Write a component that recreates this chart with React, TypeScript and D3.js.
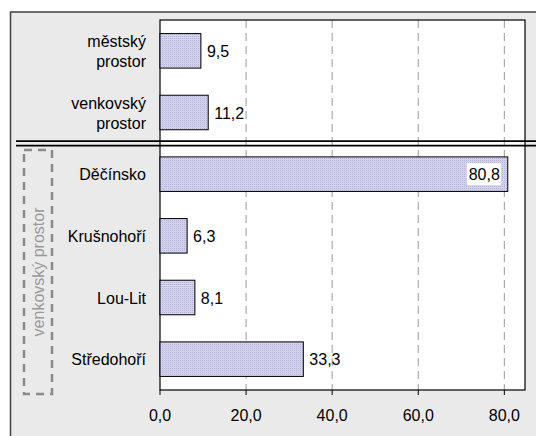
import React from "react";
import * as d3 from "d3";

const categories = ["městský prostor", "venkovský prostor", "Děčínsko", "Krušnohoří", "Lou-Lit", "Středohoří"];
const values = [9.5, 11.2, 80.8, 6.3, 8.1, 33.3];
const ticks = [0, 20, 40, 60, 80];
const groupLabel = "venkovský prostor";

const W = 536, H = 436;
const plot = { left: 160, top: 20, right: 525, bottom: 390 };
const font = "'Liberation Sans', Arial, sans-serif";
const FS = 16;

const fmt = (v: number) => v.toFixed(1).replace(".", ",");

export default function App() {
  const x = d3.scaleLinear().domain([0, 84.8]).range([plot.left, plot.right]);
  const y = d3
    .scaleBand<string>()
    .domain(categories)
    .range([plot.top, plot.bottom])
    .paddingInner(0.44)
    .paddingOuter(0.22);
  const bw = y.bandwidth();
  const sepY = (y(categories[1])! + bw + y(categories[2])!) / 2;
  const groupTop = y(categories[2])! - 7;
  const groupBottom = plot.bottom + 4;

  return (
    <svg width={W} height={H} style={{ position: "absolute", left: 0, top: 0 }}>
      <defs>
        <pattern id="hatch" width="2" height="2" patternUnits="userSpaceOnUse">
          <rect width="2" height="2" fill="#d2d2ee" />
          <rect x="0" y="0" width="1" height="1" fill="#b4b4d8" />
        </pattern>
      </defs>
      <rect x={0} y={0} width={W} height={H} fill="#ffffff" />
      <rect x={10.5} y={12} width={W} height={H} fill="#eaeaea" stroke="#404040" strokeWidth={1.5} />
      <rect
        x={plot.left}
        y={plot.top}
        width={plot.right - plot.left}
        height={plot.bottom - plot.top}
        fill="#ffffff"
      />
      {ticks.slice(1).map((t) => (
        <line
          key={"g" + t}
          x1={x(t)}
          x2={x(t)}
          y1={plot.top}
          y2={plot.bottom}
          stroke="#9a9a9a"
          strokeWidth={1}
          strokeDasharray="8,5"
        />
      ))}
      <rect
        x={plot.left}
        y={plot.top}
        width={plot.right - plot.left}
        height={plot.bottom - plot.top}
        fill="none"
        stroke="#000"
        strokeWidth={1.2}
      />
      {ticks.map((t) => (
        <g key={"t" + t}>
          <line x1={x(t)} x2={x(t)} y1={plot.bottom} y2={plot.bottom + 5} stroke="#000" />
          <text
            x={x(t)}
            y={421}
            textAnchor="middle"
            fontFamily={font}
            fontSize={FS}
            fill="#000"
          >
            {fmt(t)}
          </text>
        </g>
      ))}
      {categories.map((c, i) => {
        const v = values[i];
        const by = y(c)!;
        const cy = by + bw / 2;
        const labelLines = i < 2 ? c.split(" ") : [c];
        const inside = v > 70;
        return (
          <g key={c}>
            <rect
              x={x(0)}
              y={by}
              width={x(v) - x(0)}
              height={bw}
              fill="url(#hatch)"
              stroke="#000"
              strokeWidth={1}
            />
            {labelLines.map((l, k) => (
              <text
                key={k}
                x={146}
                y={cy + (k - (labelLines.length - 1) / 2) * 20 + 6}
                textAnchor="end"
                fontFamily={font}
                fontSize={FS}
                fill="#000"
              >
                {l}
              </text>
            ))}
            {inside ? (
              <g>
                <rect x={x(v) - 41} y={cy - 11} width={34} height={22} fill="#fff" />
                <text
                  x={x(v) - 8}
                  y={cy + 6}
                  textAnchor="end"
                  fontFamily={font}
                  fontSize={FS}
                  fill="#000"
                >
                  {fmt(v)}
                </text>
              </g>
            ) : (
              <text
                x={x(v) + 6}
                y={cy + 6}
                textAnchor="start"
                fontFamily={font}
                fontSize={FS}
                fill="#000"
              >
                {fmt(v)}
              </text>
            )}
          </g>
        );
      })}
      <line x1={16} x2={W} y1={sepY - 2.2} y2={sepY - 2.2} stroke="#000" strokeWidth={1.8} />
      <line x1={16} x2={W} y1={sepY + 2.2} y2={sepY + 2.2} stroke="#000" strokeWidth={1.8} />
      <rect
        x={24}
        y={groupTop}
        width={28}
        height={groupBottom - groupTop}
        fill="none"
        stroke="#8a8a8a"
        strokeWidth={2.5}
        strokeDasharray="8,6"
      />
      <text
        transform={`translate(43.5,${(groupTop + groupBottom) / 2}) rotate(-90)`}
        textAnchor="middle"
        fontFamily={font}
        fontSize={FS}
        fill="#9a9a9a"
      >
        {groupLabel}
      </text>
    </svg>
  );
}
